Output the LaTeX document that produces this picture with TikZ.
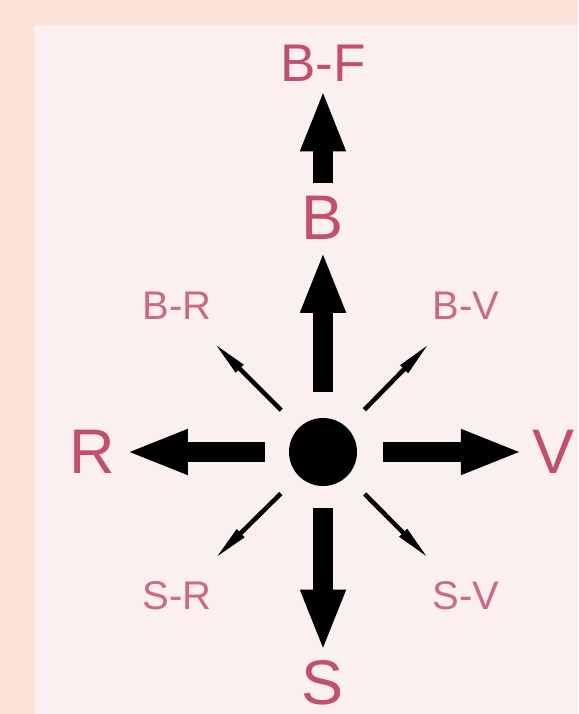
\documentclass[tikz,border=0pt]{standalone}
\usepackage{fontspec}
\setmainfont{Liberation Sans}
\usetikzlibrary{arrows.meta}

\definecolor{outerbg}{HTML}{FAE4DA}
\definecolor{innerbg}{HTML}{FCEFEF}
\definecolor{lblred}{HTML}{C2506A}

\begin{document}
\begin{tikzpicture}[
x=1pt,y=1pt,
mainlbl/.style={
text=lblred,inner sep=0pt,
font=\fontsize{63}{63}\selectfont
},
toplbl/.style={
text=lblred,inner sep=0pt,
font=\fontsize{53}{53}\selectfont
},
mixlbl/.style={
text=lblred!85,inner sep=0pt,
font=\fontsize{40}{40}\selectfont
},
centre/.style={
circle,fill=black,inner sep=0pt,
minimum size=68pt
},
bigarrow/.style={-{Triangle[length=62pt,width=41pt]}, line width=20pt},
thinarrow/.style={-{Triangle[length=36pt,width=10pt]}, line width=4.5pt,
shorten <=25pt, shorten >=33pt}
]

% =======================
% BACKGROUND
% =======================

\useasboundingbox (0,0) rectangle (578,-714);
\fill[outerbg] (0,0) rectangle (578,-714);
\fill[innerbg] (35,-25) rectangle (578,-714);

% =======================
% NODES
% =======================

\node[centre] (dot) at (323,-452) {};

\node[mainlbl] (B) at (323,-218) {B};
\node[toplbl] (BF) at (323,-63) {B-F};
\node[mainlbl] (R) at (92,-452) {R};
\node[mainlbl] (V) at (554,-452) {V};
\node[mainlbl] (S) at (323,-683) {S};

\node[mixlbl] (BR) at (177,-306) {B-R};
\node[mixlbl] (BV) at (466,-306) {B-V};
\node[mixlbl] (SR) at (177,-596) {S-R};
\node[mixlbl] (SV) at (466,-596) {S-V};

% =======================
% ARROWS
% =======================

\draw[bigarrow, shorten <=26pt, shorten >=11pt] (dot) -- (B);
\draw[bigarrow, shorten <=13pt, shorten >=8pt] (B) -- (BF);
\draw[bigarrow, shorten <=24pt, shorten >=11pt] (dot) -- (R);
\draw[bigarrow, shorten <=26pt, shorten >=10pt] (dot) -- (V);
\draw[bigarrow, shorten <=22pt, shorten >=9pt] (dot) -- (S);

\draw[thinarrow] (dot) -- (BR);
\draw[thinarrow] (dot) -- (BV);
\draw[thinarrow] (dot) -- (SR);
\draw[thinarrow] (dot) -- (SV);

\end{tikzpicture}
\end{document}
